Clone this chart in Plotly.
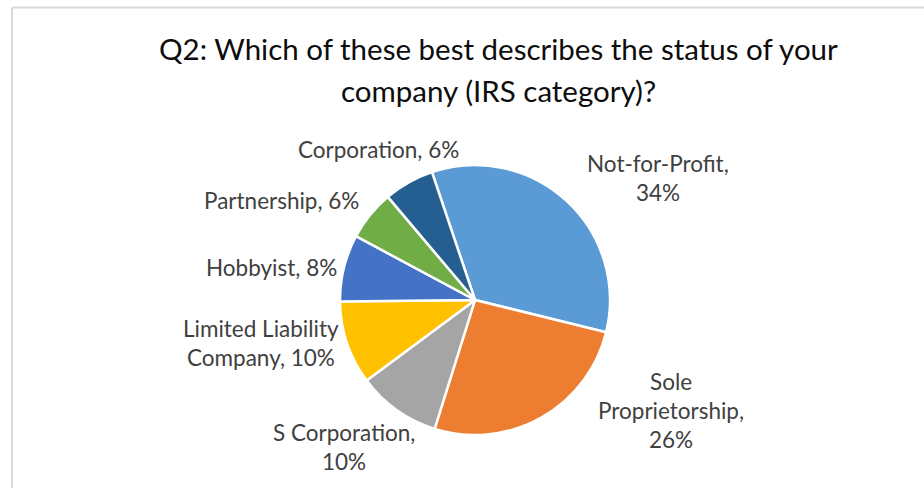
import plotly.graph_objects as go

# ---- data ----
categories = ["Not-for-Profit", "Sole Proprietorship", "S Corporation",
              "Limited Liability Company", "Hobbyist", "Partnership", "Corporation"]
values = [34, 26, 10, 10, 8, 6, 6]
label_lines = [
    ["Not-for-Profit,", "{v}%"],
    ["Sole", "Proprietorship,", "{v}%"],
    ["S Corporation,", "{v}%"],
    ["Limited Liability", "Company, {v}%"],
    ["Hobbyist, {v}%"],
    ["Partnership, {v}%"],
    ["Corporation, {v}%"],
]
title_lines = ["Q2: Which of these best describes the status of your",
               "company (IRS category)?"]

# ---- styling / layout ----
colors = ["#5B9BD5", "#ED7D31", "#A5A5A5", "#FFC000", "#4472C4", "#70AD47", "#255E91"]
W, H = 924, 488
cx, cy, r = 475, 300, 135
# first-line centre of each label, in pixels from top-left
label_pos = [(658, 163), (671, 381), (344, 432), (261, 328), (271, 267), (281, 200), (378, 150)]
line_gap = 29
label_font = dict(family="Lato, Carlito, Calibri, sans-serif", size=22.5, color="#404040")
title_font = dict(family="Lato, Carlito, Calibri, sans-serif", size=29.5, color="#0D0D0D")

def px(x):
    return x / W

def py(y):
    return 1 - y / H

fig = go.Figure(go.Pie(
    labels=categories,
    values=values,
    sort=False,
    direction="clockwise",
    rotation=-18.6,
    marker=dict(colors=colors, line=dict(color="white", width=2.5)),
    textinfo="none",
    hoverinfo="label+percent",
    domain=dict(x=[px(cx - r), px(cx + r)], y=[py(cy + r), py(cy - r)]),
    showlegend=False,
))

annotations = []
for lines, v, (lx, ly) in zip(label_lines, values, label_pos):
    for i, line in enumerate(lines):
        annotations.append(dict(
            x=px(lx), y=py(ly + i * line_gap), xref="paper", yref="paper",
            text=line.format(v=v), showarrow=False, font=label_font,
            xanchor="center", yanchor="middle"))

title_y = [49, 90]
for t, ty in zip(title_lines, title_y):
    annotations.append(dict(
        x=px(499), y=py(ty), xref="paper", yref="paper", text=t,
        showarrow=False, font=title_font, xanchor="center", yanchor="middle"))

border = dict(color="#D9D9D9", width=2)
fig.update_layout(
    width=W, height=H,
    margin=dict(l=0, r=0, t=0, b=0),
    paper_bgcolor="white", plot_bgcolor="white",
    annotations=annotations,
    shapes=[
        dict(type="line", xref="paper", yref="paper",
             x0=px(12), x1=1, y0=py(7.5), y1=py(7.5), line=border),
        dict(type="line", xref="paper", yref="paper",
             x0=px(12), x1=px(12), y0=py(7.5), y1=0, line=border),
    ],
)

fig.write_html("out.html",
               config={"displayModeBar": False},
               post_script=("document.documentElement.style.margin='0';"
                            "document.documentElement.style.overflow='hidden';"
                            "document.body.style.margin='0';"
                            "document.body.style.padding='0';"
                            "document.body.style.overflow='hidden';"))
